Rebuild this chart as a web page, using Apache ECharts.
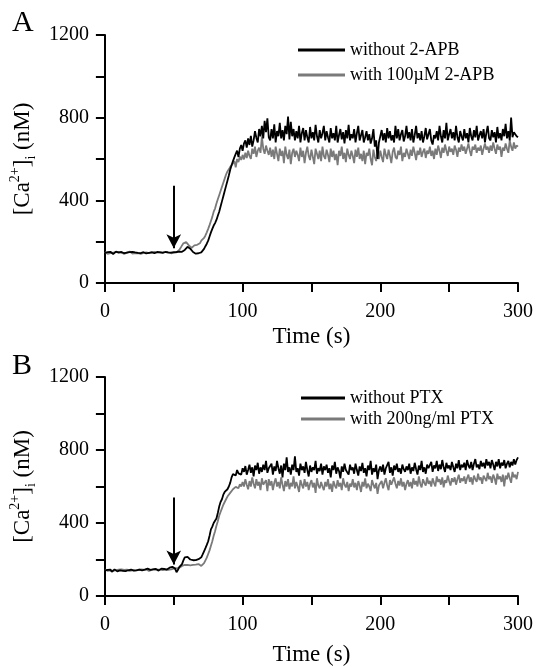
<!DOCTYPE html>
<html><head><meta charset="utf-8">
<script src="https://cdn.jsdelivr.net/npm/echarts@6/dist/echarts.min.js"></script>
<style>html,body{margin:0;padding:0;background:#fff}#c{width:536px;height:667px}</style>
</head><body><div id="c"></div>
<script>
// sampling step (s) of all traces
const sampleStep = 1;
const xTicks = [0, 100, 200, 300];
const yTicks = [0, 400, 800, 1200];
const legendA = ['without 2-APB', 'with 100\u00b5M 2-APB'];
const legendB = ['without PTX', 'with 200ng/ml PTX'];
const stimulusTime = 50;

const aBlack = [
146,142,149,144,151,145,140,148,152,143,147,141,150,146,144,152,147,142,149,145,
151,144,148,140,146,153,145,142,149,147,143,151,146,141,148,155,144,147,150,143,
148,154,146,142,150,145,148,143,147,151,149,146,150,148,152,147,151,155,160,168,
175,172,166,158,150,146,142,138,144,140,148,155,165,178,190,205,225,245,262,278,
290,305,325,345,370,395,420,445,470,495,520,548,570,590,608,625,640,610,650,668,
640,676,690,655,700,668,712,660,690,735,702,680,745,710,760,700,785,730,797,705,
690,745,700,768,680,735,710,775,700,740,690,760,720,805,695,780,710,745,690,735,
700,760,680,725,750,690,740,705,680,755,700,730,690,765,710,680,740,700,725,760,
690,735,705,680,750,700,725,690,760,680,715,745,695,730,675,740,700,765,690,720,
700,745,680,725,760,690,715,740,680,705,735,690,720,675,700,745,660,690,600,680,
710,740,690,725,680,750,700,735,690,715,680,760,700,745,690,720,740,685,710,760,
700,730,690,745,680,715,760,700,725,690,735,680,710,750,695,720,745,690,670,715,
700,735,690,760,710,680,740,700,775,690,720,745,700,730,690,760,705,680,735,710,
690,745,700,725,680,750,710,690,740,705,760,690,715,735,700,745,680,725,760,700,
690,740,705,730,680,755,700,725,690,745,710,770,700,735,690,800,705,730,720,710,
705];

const aGray = [
150,145,141,148,144,152,147,142,149,145,151,143,148,146,141,150,147,144,152,146,
142,149,145,151,144,147,141,150,146,143,148,152,145,142,149,146,150,143,147,145,
149,143,148,146,151,145,147,150,144,148,146,150,148,153,160,170,182,192,200,198,
190,182,176,170,172,182,190,185,180,192,205,212,218,230,245,262,280,300,320,345,
360,385,405,425,445,465,485,505,525,540,550,562,570,578,590,560,600,585,612,595,
620,598,630,605,640,615,600,650,625,660,610,640,655,630,708,650,625,665,640,620,
655,610,645,600,660,625,590,650,615,640,580,660,620,600,645,575,630,650,610,640,
620,590,655,610,640,580,630,660,615,595,645,610,575,650,625,600,640,590,660,615,
600,645,620,585,650,610,640,595,625,570,640,615,660,600,630,585,650,620,600,640,
615,580,645,610,655,600,625,590,640,575,630,615,650,600,570,645,610,590,635,600,
640,610,585,650,620,600,645,615,580,635,655,610,600,640,620,660,590,630,610,650,
625,600,645,615,660,630,595,640,620,655,610,635,650,605,640,625,660,615,640,600,
650,620,665,640,605,655,630,670,640,615,660,635,650,620,665,645,610,655,635,670,
640,660,625,650,675,640,615,660,645,670,630,655,640,665,620,650,675,645,660,630,
665,640,680,650,625,670,645,660,610,655,640,675,650,630,690,660,640,680,650,665,
660];

const bBlack = [
140,136,143,138,145,132,141,146,139,135,143,140,147,138,142,136,144,141,137,145,
142,139,146,140,136,144,148,141,138,145,142,150,147,143,152,146,141,148,144,139,
146,150,143,148,152,145,149,155,158,160,158,150,130,142,158,165,175,195,212,220,
214,205,200,198,196,200,197,199,202,205,212,228,245,262,280,300,330,365,380,400,
410,425,455,490,515,530,555,570,565,585,600,620,650,668,675,660,690,672,680,665,
700,680,712,665,690,720,675,705,655,715,690,730,670,705,680,720,690,740,675,700,
690,725,665,710,685,740,700,670,715,650,725,690,760,680,705,665,720,690,765,680,
700,660,725,690,710,675,735,690,655,715,680,705,690,740,670,700,685,725,665,710,
690,720,675,700,650,715,690,735,670,705,685,645,710,680,725,690,700,665,720,690,
705,670,725,690,660,710,685,730,675,700,655,715,690,740,665,700,680,720,640,690,
710,680,720,665,700,690,735,675,705,660,715,690,725,680,700,670,720,695,680,710,
690,725,670,705,685,730,695,665,715,690,740,680,705,670,720,700,690,735,680,715,
700,740,685,720,695,745,705,680,730,700,715,690,735,705,680,725,700,745,690,720,
705,730,690,745,715,700,735,690,725,750,705,720,695,740,710,730,700,750,715,735,
700,745,720,690,735,710,750,700,730,715,745,700,725,740,705,735,715,750,720,745,
760];

const bGray = [
145,141,138,146,140,143,137,145,142,136,144,140,146,139,143,137,145,142,138,144,
140,147,141,145,143,138,146,141,144,139,145,142,137,146,143,140,147,142,145,141,
144,146,142,148,145,147,143,149,146,148,150,147,152,150,155,160,165,168,170,172,
170,172,168,174,170,176,172,168,175,170,165,172,180,195,210,230,250,275,300,330,
355,385,410,440,460,480,500,515,530,545,555,565,575,585,590,598,605,590,612,600,
625,600,640,610,585,630,600,650,615,590,640,605,625,580,645,610,600,635,575,640,
605,630,580,620,645,600,625,590,650,610,575,630,600,640,585,620,600,655,590,625,
600,570,635,610,590,640,600,625,580,615,635,595,620,565,645,605,590,625,600,580,
625,600,640,585,615,570,630,605,590,635,600,620,580,645,610,595,625,575,615,600,
640,595,620,580,630,605,570,625,600,645,590,615,600,575,635,610,590,620,560,605,
600,630,590,620,645,605,580,635,610,600,650,615,590,630,605,645,600,625,580,615,
635,600,625,590,645,610,630,600,655,615,595,640,620,605,650,615,630,600,645,620,
600,655,625,640,610,650,595,635,620,660,630,605,645,625,650,610,640,665,620,645,
630,655,615,645,665,625,650,610,660,640,625,670,635,650,615,660,645,630,675,640,
655,620,665,645,610,670,640,655,625,665,600,660,640,675,645,620,680,650,665,640,
680];

// arrow start/end values (nM)
const arrowA = [470, 168];
const arrowB = [540, 172];

const toPairs = arr => arr.map((v, i) => [i * sampleStep, v]);
const FONT = '"Liberation Serif","Times New Roman",serif';

function xAxis(gi, gap) {
  return {
    type: 'value', gridIndex: gi, min: 0, max: 300, interval: 50,
    name: 'Time (s)', nameLocation: 'middle', nameGap: gap,
    nameTextStyle: { fontFamily: FONT, fontSize: 23, color: '#000' },
    axisLine: { show: true, onZero: false, lineStyle: { color: '#000', width: 2 } },
    axisTick: { show: true, length: 9, lineStyle: { color: '#000', width: 2 } },
    axisLabel: { fontFamily: FONT, fontSize: 20, color: '#000', margin: 19,
      formatter: v => xTicks.includes(v) ? String(v) : '' },
    splitLine: { show: false }
  };
}
function yAxis(gi) {
  return {
    type: 'value', gridIndex: gi, min: 0, max: 1200, interval: 200,
    name: '[Ca{sup|2+}]{sub|i} (nM)', nameLocation: 'middle', nameRotate: 90, nameGap: 61,
    nameTextStyle: { fontFamily: FONT, fontSize: 23, color: '#000', lineHeight: 30,
      rich: {
        sup: { fontFamily: FONT, fontSize: 14, color: '#000', verticalAlign: 'top', lineHeight: 30 },
        sub: { fontFamily: FONT, fontSize: 14, color: '#000', verticalAlign: 'bottom', lineHeight: 30 }
      } },
    axisLine: { show: true, lineStyle: { color: '#000', width: 2 } },
    axisTick: { show: true, length: 9, lineStyle: { color: '#000', width: 2 } },
    axisLabel: { fontFamily: FONT, fontSize: 20, color: '#000', margin: 16,
      formatter: v => yTicks.includes(v) ? String(v) : '' },
    splitLine: { show: false }
  };
}
function arrowLine(vals) {
  return {
    silent: true, symbol: ['none', 'arrow'], symbolSize: [11, 14],
    label: { show: false },
    lineStyle: { color: '#000', width: 2, type: 'solid' },
    data: [[{ coord: [stimulusTime, vals[0]] }, { coord: [stimulusTime, vals[1]] }]]
  };
}
function line(name, data, color, xi, mark) {
  const s = { name, type: 'line', xAxisIndex: xi, yAxisIndex: xi, data: toPairs(data),
    showSymbol: false, symbol: 'none', animation: false,
    lineStyle: { color, width: 1.8 }, itemStyle: { color } };
  if (mark) s.markLine = mark;
  return s;
}

const chart = echarts.init(document.getElementById('c'), null, { renderer: 'canvas' });
chart.setOption({
  backgroundColor: '#fff',
  animation: false,
  grid: [
    { left: 101, right: 14, top: 35, height: 248 },
    { left: 102, right: 14, top: 377, height: 222 }
  ],
  xAxis: [xAxis(0, 42), xAxis(1, 47)],
  yAxis: [yAxis(0), yAxis(1)],
  legend: [
    { data: legendA.map(n => ({ name: n, icon: 'rect' })), orient: 'vertical',
      left: 293, top: 36, itemWidth: 47, itemHeight: 3, itemGap: 7,
      textStyle: { fontFamily: FONT, fontSize: 18, color: '#000' }, selectedMode: false },
    { data: legendB.map(n => ({ name: n, icon: 'rect' })), orient: 'vertical',
      left: 296, top: 384, itemWidth: 44, itemHeight: 3, itemGap: 3,
      textStyle: { fontFamily: FONT, fontSize: 18, color: '#000' }, selectedMode: false }
  ],
  graphic: [
    { type: 'text', left: 12, top: 8, style: { text: 'A', font: '30px ' + FONT, fill: '#000' } },
    { type: 'text', left: 12, top: 351, style: { text: 'B', font: '30px ' + FONT, fill: '#000' } }
  ],
  series: [
    line(legendA[1], aGray, '#7a7a7a', 0),
    line(legendA[0], aBlack, '#000', 0, arrowLine(arrowA)),
    line(legendB[1], bGray, '#7a7a7a', 1),
    line(legendB[0], bBlack, '#000', 1, arrowLine(arrowB))
  ]
});
</script></body></html>
